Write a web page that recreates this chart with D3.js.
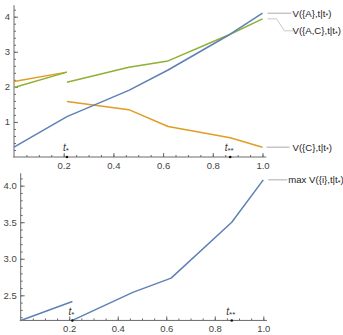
<!DOCTYPE html>
<html><head><meta charset="utf-8">
<script src="https://cdn.jsdelivr.net/npm/d3@7"></script>
<style>body{margin:0;background:#fff}svg{display:block}text{font-family:"Liberation Sans",Arial,sans-serif}</style>
</head><body><svg id="c" width="343" height="335"></svg>
<script>
// ---- data ----
const knots = [0, 0.213, 0.462, 0.62, 0.87, 1.0];
const tStar = 0.213, tStar2 = 0.87;
const blueA = [0.28, 1.15, 1.9, 2.48, 3.5, 4.1];            // V({A},t|t*) over all knots
const greenAC1 = [1.98, 2.42];                               // V({A,C}) before t*
const greenAC2 = [2.13, 2.56, 2.74, 3.5, 3.94];              // V({A,C}) after t*
const orangeC1 = [2.15, 2.42];                               // V({C}) before t*
const orangeC2 = [1.58, 1.35, 0.87, 0.55, 0.28];             // V({C}) after t*
const maxV1 = [2.156, 2.415];                                // max V({i}) before t*
const maxV2 = [2.156, 2.54, 2.735, 3.5, 4.08];               // max V({i}) after t*
const xTickVals = [0.2, 0.4, 0.6, 0.8, 1.0];
const yTopTicks = [1, 2, 3, 4];
const yBotTicks = [2.5, 3.0, 3.5, 4.0];
const labelsTop = ["V({A},t|t", "V({A,C},t|t", "V({C},t|t"];
const labelBot = "max V({i},t|t";

const C_BLUE = "#5E81B5", C_ORANGE = "#E19C24", C_GREEN = "#8FB032";
const AX = "#6a6a6a", LBL = "#444";

const svg = d3.select("#c");

// ---- top chart ----
const xT = d3.scaleLinear().domain([0, 1]).range([14, 262.5]);
const yT = d3.scaleLinear().domain([0, 4]).range([157, 16.7]);
// ---- bottom chart ----
const yBotOrigin = 2.156;
const xB = d3.scaleLinear().domain([0, 1]).range([20.7, 263.3]);
const yB = d3.scaleLinear().domain([2.5, 4.0]).range([295.3, 185.7]);

function drawAxes(g, x, y, y0, yTicks, yMinorStep, yMax, yFmt) {
  const lo = y0;
  const xMinor = d3.range(0.05, 1.0001, 0.05);
  g.append("g").attr("transform", `translate(0,${y(lo)})`)
    .call(d3.axisBottom(x).tickValues(xMinor).tickSizeInner(-2).tickSizeOuter(0).tickFormat(""))
    .call(a => a.select(".domain").remove())
    .call(a => a.selectAll("line").attr("stroke", AX));
  g.append("g").attr("transform", `translate(0,${y(lo)})`)
    .call(d3.axisBottom(x).tickValues(xTickVals).tickSizeInner(-4).tickSizeOuter(0).tickPadding(5).tickFormat(d3.format(".1f")))
    .call(a => a.select(".domain").remove())
    .call(a => a.selectAll("line").attr("stroke", AX))
    .call(a => a.selectAll("text").attr("fill", LBL).style("font-size", "9.5px"));
  const yMinor = d3.range(Math.ceil(lo / yMinorStep) * yMinorStep, yMax, yMinorStep).filter(v => v > lo + 1e-6);
  g.append("g").attr("transform", `translate(${x(0)},0)`)
    .call(d3.axisLeft(y).tickValues(yMinor).tickSizeInner(-2).tickSizeOuter(0).tickFormat(""))
    .call(a => a.select(".domain").remove())
    .call(a => a.selectAll("line").attr("stroke", AX));
  g.append("g").attr("transform", `translate(${x(0)},0)`)
    .call(d3.axisLeft(y).tickValues(yTicks).tickSizeInner(-4).tickSizeOuter(0).tickPadding(4).tickFormat(yFmt))
    .call(a => a.select(".domain").remove())
    .call(a => a.selectAll("line").attr("stroke", AX))
    .call(a => a.selectAll("text").attr("fill", LBL).style("font-size", "9.5px"));
  g.append("line").attr("x1", x(-0.004)).attr("x2", x(1.015)).attr("y1", y(lo)).attr("y2", y(lo))
    .attr("stroke", AX).attr("stroke-width", 1);
  g.append("line").attr("x1", x(0)).attr("x2", x(0)).attr("y1", y(lo)).attr("y2", y(yMax))
    .attr("stroke", AX).attr("stroke-width", 1);
}

function poly(g, x, y, ts, vs, color) {
  const line = d3.line().x((d, i) => x(ts[i])).y(d => y(d));
  g.append("path").attr("d", line(vs)).attr("fill", "none").attr("stroke", color)
    .attr("stroke-width", 1.5).attr("stroke-linejoin", "round");
}

function markers(g, x, y, lo, labelY) {
  [[tStar, "*"], [tStar2, "**"]].forEach(([tv, s]) => {
    g.append("circle").attr("cx", x(tv)).attr("cy", y(lo)).attr("r", 1.3).attr("fill", "#111");
    const t = g.append("text").attr("x", x(tv) - 1).attr("y", labelY).attr("text-anchor", "middle")
      .style("font-size", "10px").attr("fill", "#333");
    t.append("tspan").text("t").style("font-style", "italic");
    t.append("tspan").text(s).attr("dy", 1.5).style("font-size", "8px");
  });
}

// top chart
const gT = svg.append("g");
drawAxes(gT, xT, yT, 0, yTopTicks, 0.2, 4.33, d3.format("d"));
const tAfter = knots.slice(1);
const tBefore = knots.slice(0, 2);
poly(gT, xT, yT, tBefore, orangeC1, C_ORANGE);
poly(gT, xT, yT, tAfter, orangeC2, C_ORANGE);
poly(gT, xT, yT, tBefore, greenAC1, C_GREEN);
poly(gT, xT, yT, tAfter, greenAC2, C_GREEN);
poly(gT, xT, yT, knots, blueA, C_BLUE);
markers(gT, xT, yT, 0, 151);

const endA = yT(blueA[blueA.length - 1]);
const endAC = yT(greenAC2[greenAC2.length - 1]);
const endC = yT(orangeC2[orangeC2.length - 1]);
gT.append("path").attr("d", `M${xT(1) + 5},${endA}H${xT(1) + 29}`).attr("stroke", "#aaa").attr("fill", "none");
gT.append("path").attr("d", `M${xT(1) + 5},${endAC}H${xT(1) + 14}L${xT(1) + 22},${endAC + 12}H${xT(1) + 31}`)
  .attr("stroke", "#c8c8c8").attr("fill", "none");
gT.append("path").attr("d", `M${xT(1) + 4},${endC}H${xT(1) + 27}`).attr("stroke", "#aaa").attr("fill", "none");
[[labelsTop[0], endA], [labelsTop[1], endAC + 12], [labelsTop[2], endC]].forEach(([s, yy]) => {
  const t = gT.append("text").attr("x", xT(1) + 30).attr("y", yy + 3.5).style("font-size", "9.6px").attr("fill", "#222");
  t.append("tspan").text(s);
  t.append("tspan").text("*").attr("dy", 1.5).style("font-size", "7px");
  t.append("tspan").text(")").attr("dy", -1.5);
});

// bottom chart
const gB = svg.append("g");
drawAxes(gB, xB, yB, yBotOrigin, yBotTicks, 0.1, 4.17, d3.format(".1f"));
poly(gB, xB, yB, tBefore, maxV1, C_BLUE);
poly(gB, xB, yB, tAfter, maxV2, C_BLUE);
markers(gB, xB, yB, yBotOrigin, 315);
const endM = yB(maxV2[maxV2.length - 1]);
gB.append("path").attr("d", `M${xB(1) + 5},${endM}H${xB(1) + 24}`).attr("stroke", "#aaa").attr("fill", "none");
{
  const t = gB.append("text").attr("x", xB(1) + 25).attr("y", endM + 3.5).style("font-size", "9.6px").attr("fill", "#222");
  t.append("tspan").text(labelBot);
  t.append("tspan").text("*").attr("dy", 1.5).style("font-size", "7px");
  t.append("tspan").text(")").attr("dy", -1.5);
}
</script></body></html>
